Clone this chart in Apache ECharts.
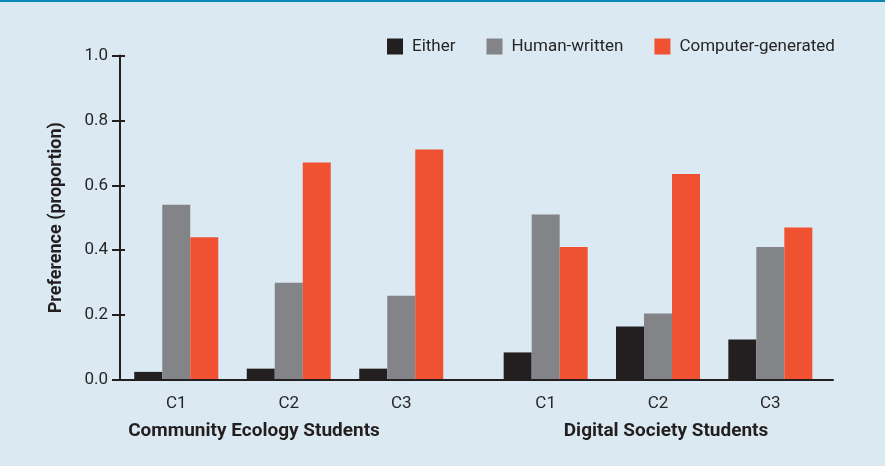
<!DOCTYPE html>
<html>
<head>
<meta charset="utf-8">
<script src="https://cdn.jsdelivr.net/npm/echarts@6/dist/echarts.min.js"></script>
<style>
  html, body { margin: 0; padding: 0; background: #dbeaf2; }
  #main { width: 885px; height: 466px; }
</style>
</head>
<body>
<div id="main"></div>
<script>
// 数据
var groups = ['C1', 'C2', 'C3'];
var seriesNames = ['Either', 'Human-written', 'Computer-generated'];
var ecoEither = [0.025, 0.035, 0.035];
var ecoHuman = [0.54, 0.30, 0.26];
var ecoComputer = [0.44, 0.67, 0.71];
var digEither = [0.085, 0.165, 0.125];
var digHuman = [0.51, 0.205, 0.41];
var digComputer = [0.41, 0.635, 0.47];

var colors = ['#231f20', '#838487', '#f05131'];
var font = 'Roboto';
var txt = '#262626';

var myChart = echarts.init(document.getElementById('main'));

function hiddenY(grid) {
    return {
        gridIndex: grid, type: 'value', min: 0, max: 1, interval: 0.2,
        show: false
    };
}

function bar(name, data, idx, color) {
    return {
        name: name,
        type: 'bar',
        xAxisIndex: idx,
        yAxisIndex: idx === 0 ? 0 : idx + 1,
        barWidth: 28,
        barGap: '0%',
        itemStyle: { color: color },
        data: data
    };
}

var option = {
    backgroundColor: '#dbeaf2',
    textStyle: { fontFamily: font },
    graphic: [{
        type: 'rect',
        shape: { x: 0, y: 0, width: 885, height: 2 },
        style: { fill: '#0a86b3' },
        z: 100
    }],
    title: [{
        text: 'Community Ecology Students',
        left: 254, top: 422, padding: 0, textAlign: 'center',
        textStyle: { fontFamily: font, fontSize: 19, fontWeight: 'bold', color: '#231f20' }
    }, {
        text: 'Digital Society Students',
        left: 666, top: 422, padding: 0, textAlign: 'center',
        textStyle: { fontFamily: font, fontSize: 19, fontWeight: 'bold', color: '#231f20' }
    }],
    legend: {
        data: seriesNames,
        left: 387, top: 38, padding: 0,
        icon: 'rect', itemWidth: 16, itemHeight: 16, itemGap: 31,
        textStyle: { fontFamily: font, fontSize: 17, color: txt, padding: [0, 0, 0, 4] }
    },
    grid: [
        { left: 120, width: 337.5, top: 55.5, bottom: 86 },
        { left: 489.5, width: 337, top: 55.5, bottom: 86 },
        { left: 120, right: 52, top: 55.5, bottom: 86 }
    ],
    xAxis: [{
        gridIndex: 0, type: 'category', data: groups,
        axisLine: { show: false }, axisTick: { show: false },
        axisLabel: { margin: 15, fontFamily: font, fontSize: 17, color: txt }
    }, {
        gridIndex: 1, type: 'category', data: groups,
        axisLine: { show: false }, axisTick: { show: false },
        axisLabel: { margin: 15, fontFamily: font, fontSize: 17, color: txt }
    }, {
        // 整条x轴线
        gridIndex: 2, type: 'value', min: 0, max: 1,
        axisLine: { show: true, lineStyle: { color: '#231f20', width: 2 } },
        axisTick: { show: false }, axisLabel: { show: false }, splitLine: { show: false },
        z: 10
    }],
    yAxis: [{
        gridIndex: 0, type: 'value', min: 0, max: 1, interval: 0.2,
        position: 'left',
        name: 'Preference (proportion)',
        nameLocation: 'middle', nameGap: 55,
        nameTextStyle: { fontFamily: font, fontSize: 18, fontWeight: 'bold', color: '#231f20' },
        axisLine: { show: true, lineStyle: { color: '#231f20', width: 2 } },
        axisTick: { show: true, length: 8, lineStyle: { color: '#231f20', width: 2 } },
        axisLabel: {
            margin: 12, fontFamily: font, fontSize: 17, color: txt,
            formatter: function (v) { return v.toFixed(1); }
        },
        splitLine: { show: false }
    }, {
        // 轴内侧的刻度
        gridIndex: 0, type: 'value', min: 0, max: 1, interval: 0.2,
        position: 'left', offset: 0,
        axisLine: { show: false },
        axisTick: { show: true, inside: true, length: 5, lineStyle: { color: '#231f20', width: 2 } },
        axisLabel: { show: false },
        splitLine: { show: false }
    }, hiddenY(1), hiddenY(2)],
    series: [
        bar(seriesNames[0], ecoEither, 0, colors[0]),
        bar(seriesNames[1], ecoHuman, 0, colors[1]),
        bar(seriesNames[2], ecoComputer, 0, colors[2]),
        bar(seriesNames[0], digEither, 1, colors[0]),
        bar(seriesNames[1], digHuman, 1, colors[1]),
        bar(seriesNames[2], digComputer, 1, colors[2])
    ]
};
myChart.setOption(option);
</script>
</body>
</html>
